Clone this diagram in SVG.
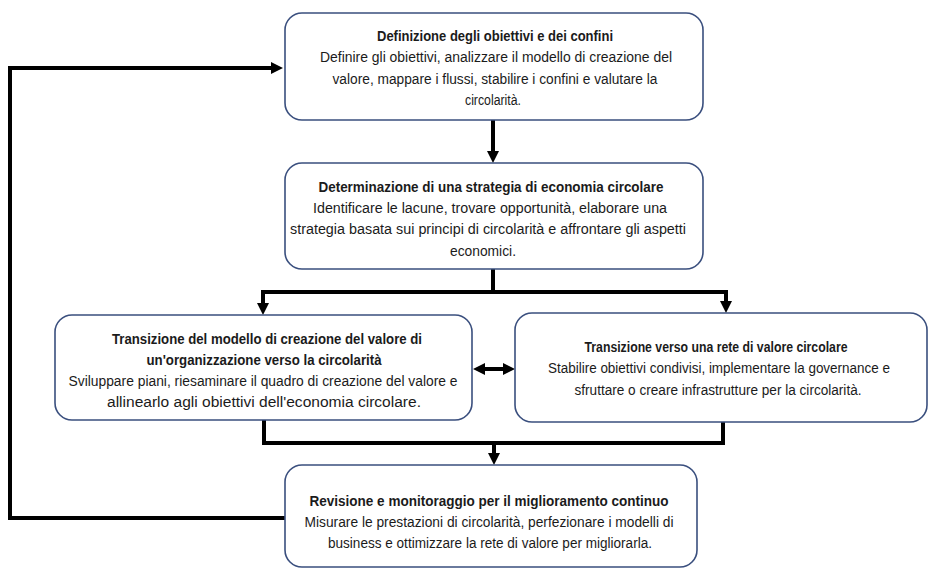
<svg xmlns="http://www.w3.org/2000/svg" width="929" height="570" viewBox="0 0 929 570">
  <style>
    .box { fill: #ffffff; stroke: #3a4f7e; stroke-width: 1.6; }
    .t { font-family: "Liberation Sans", Arial, sans-serif; font-size: 14px; fill: #1b1b1b; text-anchor: middle; }
    .b { font-weight: bold; }
    .wire { fill: none; stroke: #000000; stroke-width: 4; stroke-linejoin: miter; }
  </style>
  <defs>
    <marker id="arrow" viewBox="0 0 12 12" markerWidth="12" markerHeight="12" refX="2" refY="6" markerUnits="userSpaceOnUse" orient="auto-start-reverse">
      <path d="M0,0 L12,6 L0,12 z" fill="#000000"/>
    </marker>
  </defs>

  <rect width="929" height="570" fill="#ffffff"/>

  <!-- connectors -->
  <g id="connectors">
    <path class="wire" d="M493 120 V153" marker-end="url(#arrow)"/>
    <path class="wire" d="M493 269 V292 H263 V305" marker-end="url(#arrow)"/>
    <path class="wire" d="M493 292 H726 V303" marker-end="url(#arrow)"/>
    <path class="wire" d="M483 369 H505" marker-start="url(#arrow)" marker-end="url(#arrow)"/>
    <path class="wire" d="M264 420 V443 H723 V422"/>
    <path class="wire" d="M494 443 V455" marker-end="url(#arrow)"/>
    <path class="wire" d="M285 518 H10 V68 H273" marker-end="url(#arrow)"/>
  </g>

  <!-- objectives and boundaries -->
  <g id="node-definizione">
    <rect class="box" x="285" y="13" width="418" height="107" rx="17"/>
    <text class="t b" x="495" y="41" textLength="236" lengthAdjust="spacingAndGlyphs">Definizione degli obiettivi e dei confini</text>
    <text class="t" x="496" y="62" textLength="352" lengthAdjust="spacingAndGlyphs">Definire gli obiettivi, analizzare il modello di creazione del</text>
    <text class="t" x="495" y="84" textLength="325" lengthAdjust="spacingAndGlyphs">valore, mappare i flussi, stabilire i confini e valutare la</text>
    <text class="t" x="493" y="105" textLength="56" lengthAdjust="spacingAndGlyphs">circolarità.</text>
  </g>

  <!-- circular economy strategy -->
  <g id="node-strategia">
    <rect class="box" x="285" y="163" width="418" height="106" rx="17"/>
    <text class="t b" x="491" y="192" textLength="345" lengthAdjust="spacingAndGlyphs">Determinazione di una strategia di economia circolare</text>
    <text class="t" x="490" y="213" textLength="354" lengthAdjust="spacingAndGlyphs">Identificare le lacune, trovare opportunità, elaborare una</text>
    <text class="t" x="488" y="234" textLength="396" lengthAdjust="spacingAndGlyphs">strategia basata sui principi di circolarità e affrontare gli aspetti</text>
    <text class="t" x="483" y="256" textLength="66" lengthAdjust="spacingAndGlyphs">economici.</text>
  </g>

  <!-- organisation value model -->
  <g id="node-organizzazione">
    <rect class="box" x="55" y="315" width="417" height="105" rx="17"/>
    <text class="t b" x="267" y="344" textLength="310" lengthAdjust="spacingAndGlyphs">Transizione del modello di creazione del valore di</text>
    <text class="t b" x="264" y="365" textLength="235" lengthAdjust="spacingAndGlyphs">un'organizzazione verso la circolarità</text>
    <text class="t" x="263" y="386" textLength="389" lengthAdjust="spacingAndGlyphs">Sviluppare piani, riesaminare il quadro di creazione del valore e</text>
    <text class="t" x="264" y="407" textLength="314" lengthAdjust="spacingAndGlyphs">allinearlo agli obiettivi dell'economia circolare.</text>
  </g>

  <!-- value network -->
  <g id="node-rete">
    <rect class="box" x="515" y="313" width="412" height="109" rx="17"/>
    <text class="t b" x="716" y="352" textLength="263" lengthAdjust="spacingAndGlyphs">Transizione verso una rete di valore circolare</text>
    <text class="t" x="719" y="373" textLength="342" lengthAdjust="spacingAndGlyphs">Stabilire obiettivi condivisi, implementare la governance e</text>
    <text class="t" x="718" y="395" textLength="287" lengthAdjust="spacingAndGlyphs">sfruttare o creare infrastrutture per la circolarità.</text>
  </g>

  <!-- review and monitoring -->
  <g id="node-revisione">
    <rect class="box" x="285" y="465" width="412" height="102" rx="17"/>
    <text class="t b" x="489" y="506" textLength="359" lengthAdjust="spacingAndGlyphs">Revisione e monitoraggio per il miglioramento continuo</text>
    <text class="t" x="489" y="527" textLength="369" lengthAdjust="spacingAndGlyphs">Misurare le prestazioni di circolarità, perfezionare i modelli di</text>
    <text class="t" x="490" y="548" textLength="324" lengthAdjust="spacingAndGlyphs">business e ottimizzare la rete di valore per migliorarla.</text>
  </g>
</svg>
